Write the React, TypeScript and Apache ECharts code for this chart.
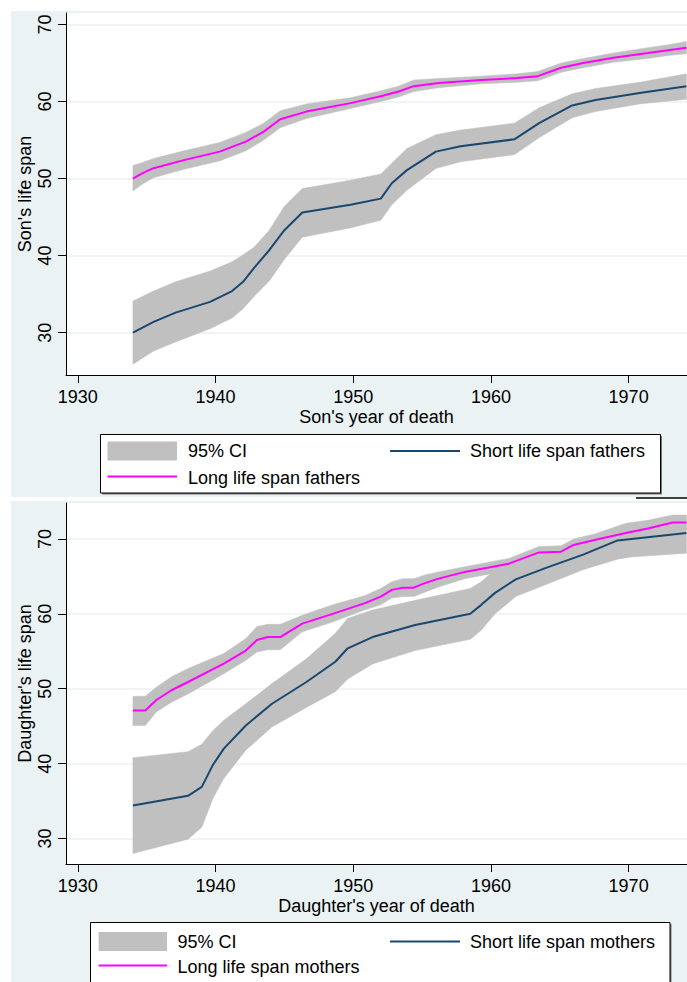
import React, { useEffect, useRef } from "react";
import * as echarts from "echarts";

// ---------- tick labels ----------
const xTicks = [1930, 1940, 1950, 1960, 1970];
const yTicks = [30, 40, 50, 60, 70];

// ---------- Panel 1: sons ----------
const sonLongYears = [1934, 1934.7, 1935.5, 1937.7, 1940.3, 1942.2, 1943.5, 1944.7, 1946.6, 1949.8, 1952, 1953.3, 1954.4, 1956.2, 1959.3, 1961.9, 1963.4, 1965.1, 1966.7, 1968.9, 1971.4, 1973, 1974.2];
const sonLongMid = [50.0, 50.7, 51.35, 52.4, 53.5, 54.8, 56.1, 57.7, 58.7, 59.8, 60.7, 61.3, 62.0, 62.4, 62.8, 63.06, 63.3, 64.4, 65.0, 65.7, 66.3, 66.7, 67.0];
const sonLongHi = [51.7, 52.1, 52.6, 53.6, 54.7, 56.0, 57.2, 58.8, 59.7, 60.5, 61.4, 62.0, 62.8, 63.0, 63.3, 63.6, 63.9, 65.0, 65.6, 66.3, 67.0, 67.4, 67.8];
const sonLongLo = [48.4, 49.3, 50.1, 51.2, 52.3, 53.6, 55.0, 56.6, 57.8, 59.1, 60.0, 60.6, 61.3, 61.8, 62.3, 62.5, 62.7, 63.8, 64.4, 65.1, 65.6, 66.0, 66.2];

const sonShortYears = [1934, 1935.5, 1937.1, 1939.6, 1941.2, 1942, 1942.8, 1943.9, 1945, 1946.3, 1949.8, 1952, 1952.8, 1953.9, 1956, 1957.8, 1961.7, 1963.5, 1965.9, 1967.6, 1970.8, 1974.2];
const sonShortMid = [30.0, 31.4, 32.6, 34.0, 35.4, 36.6, 38.4, 40.7, 43.3, 45.6, 46.6, 47.4, 49.4, 51.1, 53.5, 54.2, 55.1, 57.2, 59.5, 60.2, 61.1, 62.0];
const sonShortHi = [34.1, 35.4, 36.6, 38.0, 39.2, 40.1, 41.1, 43.3, 46.4, 48.7, 49.8, 50.6, 52.0, 53.9, 55.7, 56.3, 57.2, 59.2, 61.0, 61.7, 62.5, 63.6];
const sonShortLo = [25.9, 27.6, 28.8, 30.5, 31.9, 33.1, 34.7, 36.7, 39.5, 42.4, 43.6, 44.6, 46.6, 48.5, 51.3, 52.2, 53.1, 55.3, 57.9, 58.7, 59.7, 60.3];

// ---------- Panel 2: daughters ----------
const dauLongYears = [1934, 1934.9, 1935.7, 1936.8, 1938, 1940.6, 1942.2, 1943, 1943.8, 1944.7, 1946.3, 1948.5, 1950.8, 1952, 1952.8, 1953.6, 1954.4, 1955.2, 1956.2, 1958.1, 1961.3, 1963.5, 1965.1, 1966, 1967.6, 1969.8, 1971.4, 1973.2, 1974.2];
const dauLongMid = [47.1, 47.1, 48.5, 49.8, 50.9, 53.35, 55.1, 56.5, 56.9, 56.9, 58.7, 60.0, 61.4, 62.3, 63.2, 63.5, 63.5, 64.1, 64.7, 65.6, 66.7, 68.2, 68.3, 69.2, 69.9, 70.8, 71.4, 72.2, 72.2];
const dauLongHi = [49.0, 49.0, 50.2, 51.6, 52.7, 54.7, 56.7, 58.3, 58.6, 58.6, 59.8, 61.2, 62.4, 63.4, 64.3, 64.7, 64.7, 65.2, 65.6, 66.3, 67.4, 69.0, 69.1, 70.0, 70.7, 72.1, 72.5, 73.2, 73.2];
const dauLongLo = [45.1, 45.1, 46.9, 48.2, 49.3, 52.0, 53.8, 54.9, 55.2, 55.2, 57.6, 58.9, 60.5, 61.2, 62.1, 62.3, 62.3, 62.9, 63.6, 64.7, 65.8, 67.4, 67.5, 68.3, 69.0, 69.6, 70.3, 71.3, 71.2];

const dauShortYears = [1934, 1938, 1939, 1939.8, 1940.6, 1942.2, 1944.1, 1946.6, 1948.7, 1949.6, 1951.4, 1954.5, 1958.5, 1959.3, 1960.3, 1961.8, 1964.1, 1966.7, 1969.2, 1970.2, 1974.2];
const dauShortMid = [34.4, 35.7, 36.9, 39.8, 42.0, 45.1, 48.0, 50.9, 53.6, 55.4, 56.9, 58.5, 60.0, 61.2, 62.8, 64.6, 66.2, 67.9, 69.8, 70.0, 70.8];
const dauShortHi = [40.8, 41.6, 42.6, 44.4, 45.8, 48.0, 50.7, 54.0, 57.4, 59.4, 60.5, 61.8, 63.4, 64.3, 65.9, 67.5, 68.4, 69.4, 71.3, 71.6, 72.6];
const dauShortLo = [28.0, 29.9, 31.5, 35.3, 38.0, 41.8, 44.9, 47.5, 49.6, 51.3, 53.3, 55.1, 56.6, 57.8, 60.0, 62.3, 64.0, 65.9, 67.3, 67.6, 68.1];

// ---------- legend / titles ----------
const topLegend = ["95% CI", "Short life span fathers", "Long life span fathers"];
const bottomLegend = ["95% CI", "Short life span mothers", "Long life span mothers"];
const topXTitle = "Son's year of death";
const topYTitle = "Son's life span";
const bottomXTitle = "Daughter's year of death";
const bottomYTitle = "Daughter's life span";

const FONT = "'Liberation Sans', Arial, Helvetica, sans-serif";
const FS = 18;
const NAVY = "#1a476f";
const MAGENTA = "#ff00ff";
const GRAY = "#c0c0c0";
const BG = "#eaf2f3";

function band(id: string, gi: number, years: number[], lo: number[], hi: number[]) {
  return {
    type: "custom", name: id, xAxisIndex: gi, yAxisIndex: gi, silent: true, z: 2, clip: true,
    data: years.map((y, i) => [y, lo[i], hi[i]]),
    renderItem: (params: any, api: any) => {
      if (params.dataIndex !== 0) return null;
      const upper = years.map((y, i) => api.coord([y, hi[i]]));
      const lower = years.map((y, i) => api.coord([y, lo[i]])).reverse();
      return {
        type: "polygon",
        shape: { points: upper.concat(lower) },
        style: { fill: GRAY, stroke: GRAY, lineWidth: 0.5 },
      };
    },
  };
}

function mid(name: string, gi: number, years: number[], vals: number[], color: string) {
  return {
    type: "line", name, xAxisIndex: gi, yAxisIndex: gi,
    data: years.map((y, i) => [y, vals[i]]), symbol: "none", silent: true,
    lineStyle: { color, width: 2 }, itemStyle: { color }, z: 3,
  };
}

function xAxisOpt(gi: number, title: string) {
  return {
    type: "value", gridIndex: gi, min: 1929.14, max: 1974.24,
    name: title, nameLocation: "middle", nameGap: 33, nameMoveOverlap: false,
    nameTextStyle: { fontSize: FS, fontFamily: FONT, color: "#000", lineHeight: 18 },
    axisLine: { show: true, onZero: false, lineStyle: { color: "#000", width: 1 } },
    axisTick: { show: true, length: 8, customValues: xTicks, lineStyle: { color: "#000" } },
    axisLabel: { customValues: xTicks, fontSize: FS, fontFamily: FONT, color: "#000", margin: 13, lineHeight: 18, formatter: (v: number) => String(v) },
    splitLine: { show: false },
  };
}

function yAxisOpt(gi: number, min: number, max: number, title: string) {
  return {
    type: "value", gridIndex: gi, min, max,
    name: title, nameLocation: "middle", nameGap: 32, nameRotate: 90, nameMoveOverlap: false,
    nameTextStyle: { fontSize: FS, fontFamily: FONT, color: "#000" },
    axisLine: { show: true, onZero: false, lineStyle: { color: "#000", width: 1 } },
    axisTick: { show: true, length: 8, customValues: yTicks, lineStyle: { color: "#000" } },
    axisLabel: { customValues: yTicks, rotate: 90, fontSize: FS, fontFamily: FONT, color: "#000", margin: 12, formatter: (v: number) => String(v) },
    splitLine: { show: true, lineStyle: { color: BG, width: 1.5 } },
  };
}

function legendGraphics(lg: string[], o: any) {
  const txt = (t: string, x: number, y: number) => ({
    type: "text", x, y, z: 20,
    style: { text: t, fontSize: FS, fontFamily: FONT, fill: "#000", verticalAlign: "middle", align: "left" },
  });
  return [
    { type: "rect", z: 19, shape: { x: o.boxX + 1.5, y: o.boxY + 1.5, width: o.boxW, height: o.boxH }, style: { fill: "#777" } },
    { type: "rect", z: 19, shape: { x: o.boxX, y: o.boxY, width: o.boxW, height: o.boxH }, style: { fill: "#fff", stroke: "#000", lineWidth: 1 } },
    { type: "rect", z: 20, shape: { x: o.swX1, y: o.row1 - 9.5, width: o.swX2 - o.swX1, height: 19 }, style: { fill: GRAY } },
    txt(lg[0], o.txt1, o.row1),
    { type: "line", z: 20, shape: { x1: 390, y1: o.row1, x2: 460, y2: o.row1 }, style: { stroke: NAVY, lineWidth: 2 } },
    txt(lg[1], 470, o.row1),
    { type: "line", z: 20, shape: { x1: o.swX1, y1: o.row2 - 1.5, x2: o.swX2, y2: o.row2 - 1.5 }, style: { stroke: MAGENTA, lineWidth: 2 } },
    txt(lg[2], o.txt1, o.row2),
  ];
}

export default function App() {
  const ref = useRef<HTMLDivElement>(null);
  useEffect(() => {
    document.body.style.margin = "0";
    if (!ref.current) return;
    const chart = echarts.init(ref.current, null, { renderer: "svg" });
    const option: any = {
      animation: false,
      backgroundColor: "#fff",
      grid: [
        { left: 66, top: 13, width: 621, height: 362, show: true, backgroundColor: "#fff", borderWidth: 0, outerBoundsMode: "none", containLabel: false },
        { left: 66, top: 503, width: 621, height: 361, show: true, backgroundColor: "#fff", borderWidth: 0, outerBoundsMode: "none", containLabel: false },
      ],
      xAxis: [xAxisOpt(0, topXTitle), xAxisOpt(1, bottomXTitle)],
      yAxis: [yAxisOpt(0, 24.5, 71.5, topYTitle), yAxisOpt(1, 26.6, 74.8, bottomYTitle)],
      series: [
        band("sl", 0, sonLongYears, sonLongLo, sonLongHi),
        band("ss", 0, sonShortYears, sonShortLo, sonShortHi),
        mid(topLegend[1], 0, sonShortYears, sonShortMid, NAVY),
        mid(topLegend[2], 0, sonLongYears, sonLongMid, MAGENTA),
        band("dl", 1, dauLongYears, dauLongLo, dauLongHi),
        band("ds", 1, dauShortYears, dauShortLo, dauShortHi),
        mid(bottomLegend[1], 1, dauShortYears, dauShortMid, NAVY),
        mid(bottomLegend[2], 1, dauLongYears, dauLongMid, MAGENTA),
      ],
      graphic: [
        { type: "rect", z: -10, silent: true, shape: { x: 11, y: 11, width: 676, height: 486 }, style: { fill: BG } },
        { type: "rect", z: -10, silent: true, shape: { x: 11, y: 501, width: 676, height: 481 }, style: { fill: BG } },
        { type: "line", z: 20, shape: { x1: 636, y1: 498, x2: 687, y2: 498 }, style: { stroke: "#000", lineWidth: 1.5 } },
        ...legendGraphics(topLegend, { boxX: 100.5, boxY: 434.5, boxW: 560, boxH: 58.5, swX1: 107.5, swX2: 177, txt1: 188, row1: 451, row2: 478 }),
        ...legendGraphics(bottomLegend, { boxX: 90.5, boxY: 922.5, boxW: 579.5, boxH: 100, swX1: 98.6, swX2: 167, txt1: 177.4, row1: 941.5, row2: 967 }),
      ],
    };
    chart.setOption(option);
    return () => chart.dispose();
  }, []);
  return <div ref={ref} style={{ width: 687, height: 982 }} />;
}
